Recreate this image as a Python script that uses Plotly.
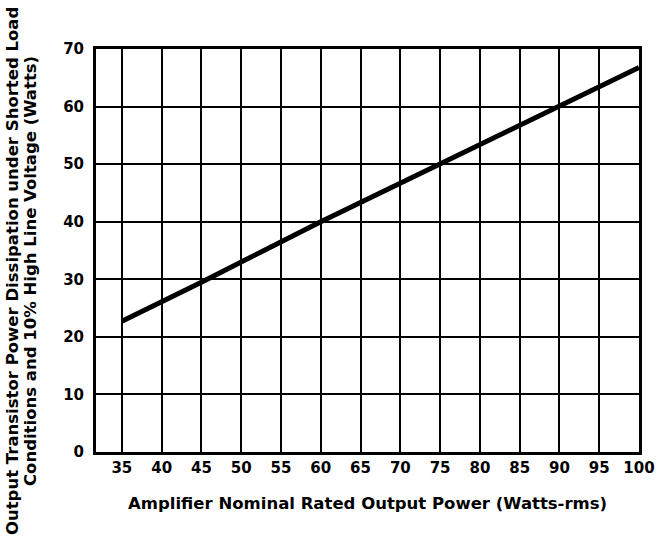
import plotly.graph_objects as go

# Data
output_power = [35, 45, 60, 75, 90, 100]
dissipation = [22.7, 29.5, 40.0, 50.0, 60.0, 66.8]

x_ticks = [35, 40, 45, 50, 55, 60, 65, 70, 75, 80, 85, 90, 95, 100]
y_ticks = [0, 10, 20, 30, 40, 50, 60, 70]

x_title = "Amplifier Nominal Rated Output Power (Watts-rms)"
y_title_lines = ["Output Transistor Power Dissipation under Shorted Load",
                 "Conditions and 10% High Line Voltage (Watts)"]

FONT = "DejaVu Sans"

fig = go.Figure()
fig.add_trace(go.Scatter(
    x=output_power, y=dissipation, mode="lines",
    line=dict(color="black", width=5), showlegend=False, hoverinfo="skip",
))

fig.update_layout(
    width=660, height=544,
    margin=dict(l=96, r=21, t=49, b=92, autoexpand=False),
    paper_bgcolor="white", plot_bgcolor="white",
    font=dict(family=FONT, color="black"),
    showlegend=False,
)

fig.update_xaxes(
    range=[31.75, 100], tickvals=x_ticks, ticktext=[str(v) for v in x_ticks],
    showgrid=True, gridcolor="black", gridwidth=2,
    showline=True, linecolor="black", linewidth=3, mirror=True,
    ticks="", zeroline=False, automargin=False,
    tickfont=dict(family=FONT, size=15, color="black", weight="bold"),
)
fig.update_yaxes(
    range=[0, 70], tickvals=y_ticks, ticktext=[str(v) for v in y_ticks],
    showgrid=True, gridcolor="black", gridwidth=2,
    showline=True, linecolor="black", linewidth=3, mirror=True,
    ticks="", zeroline=False, ticklabelstandoff=6, automargin=False,
    tickfont=dict(family=FONT, size=15, color="black", weight="bold"),
)

fig.add_annotation(
    text=x_title, xref="paper", yref="paper", x=0.5, y=0,
    xanchor="center", yanchor="middle", yshift=-51,
    showarrow=False,
    font=dict(family=FONT, size=16.5, color="black", weight="bold"),
)
for line_text, shift in zip(y_title_lines, [-84, -66]):
    fig.add_annotation(
        text=line_text, xref="paper", yref="paper", x=0, y=0.449,
        xanchor="center", yanchor="middle", xshift=shift, textangle=-90,
        showarrow=False,
        font=dict(family=FONT, size=16.5, color="black", weight="bold"),
    )

fig.write_html("out.html", config={"displayModeBar": False},
               post_script="document.body.style.margin='0';")
